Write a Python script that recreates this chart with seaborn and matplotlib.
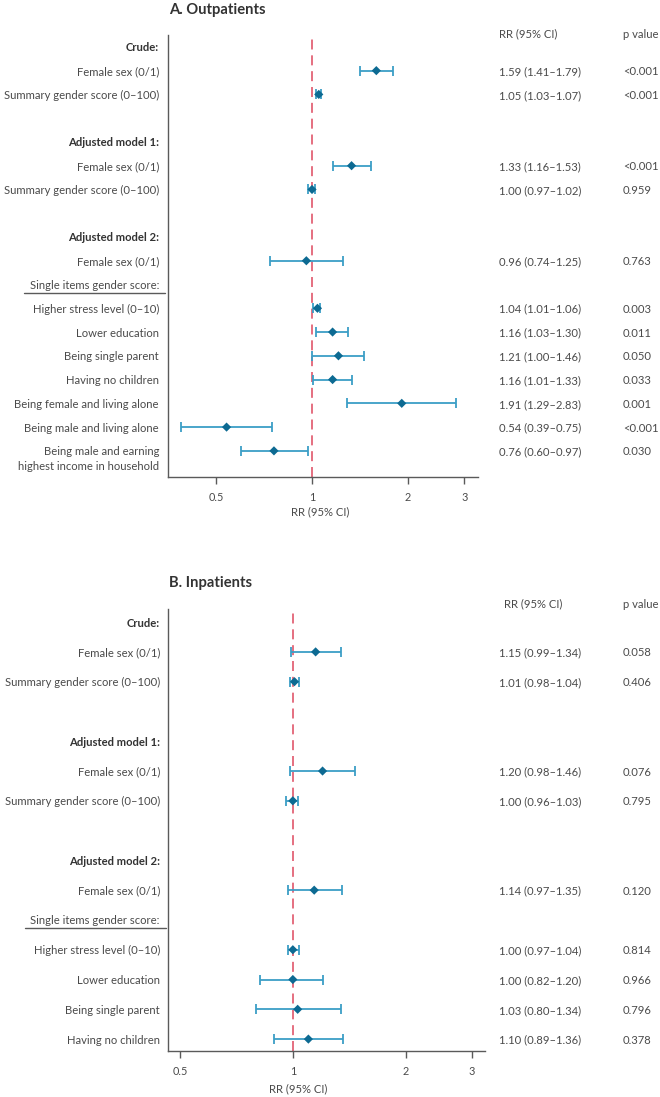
import matplotlib
matplotlib.use("Agg")
import matplotlib.pyplot as plt
import matplotlib.transforms as mtransforms
from matplotlib.lines import Line2D
from matplotlib.ticker import NullLocator
import seaborn as sns
import numpy as np
import pandas as pd

sns.set_theme(style="ticks")
plt.rcParams['font.family'] = ['Lato', 'DejaVu Sans']

NaN = np.nan

# ---------------- Panel A: Outpatients ----------------
a_labels = ["Crude:", "Female sex (0/1)", "Summary gender score (0–100)", "",
            "Adjusted model 1:", "Female sex (0/1)", "Summary gender score (0–100)", "",
            "Adjusted model 2:", "Female sex (0/1)", "Single items gender score:",
            "Higher stress level (0–10)", "Lower education", "Being single parent",
            "Having no children", "Being female and living alone",
            "Being male and living alone",
            "Being male and earning\nhighest income in household"]
a_kinds = ["head", "item", "item", "blank", "head", "item", "item", "blank",
           "head", "item", "sub", "item", "item", "item", "item", "item", "item", "item"]
a_rr = [NaN, 1.59, 1.05, NaN, NaN, 1.33, 1.00, NaN, NaN, 0.96, NaN,
        1.04, 1.16, 1.21, 1.16, 1.91, 0.54, 0.76]
a_lo = [NaN, 1.41, 1.03, NaN, NaN, 1.16, 0.97, NaN, NaN, 0.74, NaN,
        1.01, 1.03, 1.00, 1.01, 1.29, 0.39, 0.60]
a_hi = [NaN, 1.79, 1.07, NaN, NaN, 1.53, 1.02, NaN, NaN, 1.25, NaN,
        1.06, 1.30, 1.46, 1.33, 2.83, 0.75, 0.97]
a_p = ["", "<0.001", "<0.001", "", "", "<0.001", "0.959", "", "", "0.763", "",
       "0.003", "0.011", "0.050", "0.033", "0.001", "<0.001", "0.030"]

# ---------------- Panel B: Inpatients ----------------
b_labels = ["Crude:", "Female sex (0/1)", "Summary gender score (0–100)", "",
            "Adjusted model 1:", "Female sex (0/1)", "Summary gender score (0–100)", "",
            "Adjusted model 2:", "Female sex (0/1)", "Single items gender score:",
            "Higher stress level (0–10)", "Lower education", "Being single parent",
            "Having no children"]
b_kinds = ["head", "item", "item", "blank", "head", "item", "item", "blank",
           "head", "item", "sub", "item", "item", "item", "item"]
b_rr = [NaN, 1.15, 1.01, NaN, NaN, 1.20, 1.00, NaN, NaN, 1.14, NaN,
        1.00, 1.00, 1.03, 1.10]
b_lo = [NaN, 0.99, 0.98, NaN, NaN, 0.98, 0.96, NaN, NaN, 0.97, NaN,
        0.97, 0.82, 0.80, 0.89]
b_hi = [NaN, 1.34, 1.04, NaN, NaN, 1.46, 1.03, NaN, NaN, 1.35, NaN,
        1.04, 1.20, 1.34, 1.36]
b_p = ["", "0.058", "0.406", "", "", "0.076", "0.795", "", "", "0.120", "",
       "0.814", "0.966", "0.796", "0.378"]

x_ticks = [0.5, 1, 2, 3]
x_ticklabels = ["0.5", "1", "2", "3"]

W, H = 660, 1097
fig = plt.figure(figsize=(W / 100, H / 100), dpi=100)

TXT = "#4a4a4a"
HEAD = "#333333"
SPINE = "#5a5a5a"
CI_COL = "#3b9ec6"
PT_COL = "#0d6a92"
REF_COL = "#e0566b"
FS = 8.1


def fx(px):
    return px / W


def fy(py):
    return 1 - py / H


def draw_panel(rect, labels, kinds, rr, lo, hi, pv, xlim, ylim, title, title_xy,
               hdr_rr_xy, hdr_p_xy, label_x, rr_x, p_x, xlabel_coords):
    ax = fig.add_axes(rect)
    rows = np.arange(len(labels))
    df = pd.DataFrame({"row": rows, "label": labels, "kind": kinds,
                       "rr": rr, "lo": lo, "hi": hi, "p": pv})
    d = df.dropna(subset=["rr"])

    ax.set_xscale("log")
    ax.axvline(1, color=REF_COL, lw=1.2, dashes=(6, 3.5), zorder=1)
    ax.errorbar(d["rr"], d["row"], xerr=[d["rr"] - d["lo"], d["hi"] - d["rr"]],
                fmt="none", ecolor=CI_COL, elinewidth=1.3, capsize=3.8,
                capthick=1.3, zorder=2)
    sns.scatterplot(data=d, x="rr", y="row", marker="D", s=22, color=PT_COL,
                    edgecolor="none", linewidth=0, ax=ax, zorder=3, legend=False)

    ax.set_xlim(*xlim)
    ax.set_ylim(*ylim)
    ax.set_xticks(x_ticks)
    ax.set_xticklabels(x_ticklabels)
    ax.xaxis.set_minor_locator(NullLocator())
    ax.set_yticks([])
    ax.set_ylabel("")
    ax.set_xlabel("RR (95% CI)", fontsize=FS, color=TXT)
    ax.xaxis.set_label_coords(*xlabel_coords)
    ax.tick_params(axis="x", length=5, width=1, color=SPINE, labelsize=7.8,
                   labelcolor=TXT, pad=6)
    for s in ["top", "right"]:
        ax.spines[s].set_visible(False)
    for s in ["left", "bottom"]:
        ax.spines[s].set_color(SPINE)
        ax.spines[s].set_linewidth(1.0)

    trans = mtransforms.blended_transform_factory(fig.transFigure, ax.transData)
    sub_text = None
    for _, r in df.iterrows():
        if r["kind"] == "blank":
            continue
        weight = "bold" if r["kind"] == "head" else "normal"
        color = HEAD if r["kind"] == "head" else TXT
        for k, line in enumerate(r["label"].split("\n")):
            tr = mtransforms.offset_copy(trans, fig=fig, y=-k * 10.5, units="points")
            t = ax.text(label_x, r["row"], line, transform=tr, ha="right",
                        va="center_baseline", fontsize=FS, fontweight=weight,
                        color=color)
        if r["kind"] == "sub":
            sub_text = t
        if not np.isnan(r["rr"]):
            ax.text(rr_x, r["row"],
                    f"{r['rr']:.2f} ({r['lo']:.2f}–{r['hi']:.2f})",
                    transform=trans, ha="left", va="center_baseline",
                    fontsize=FS, color=TXT)
            ax.text(p_x, r["row"], r["p"], transform=trans, ha="left",
                    va="center_baseline", fontsize=FS, color=TXT)

    fig.text(title_xy[0], title_xy[1], title, ha="left", va="baseline",
             fontsize=10.6, fontweight="bold", color=HEAD)
    fig.text(hdr_rr_xy[0], hdr_rr_xy[1], "RR (95% CI)", ha="left",
             va="center_baseline", fontsize=FS, color=TXT)
    fig.text(hdr_p_xy[0], hdr_p_xy[1], "p value", ha="left",
             va="center_baseline", fontsize=FS, color=TXT)
    return ax, sub_text


axA, subA = draw_panel([fx(168), fy(477), fx(478) - fx(168), fy(35) - fy(477)],
                       a_labels, a_kinds, a_rr, a_lo, a_hi, a_p,
                       (0.354, 3.31), (18.1, -0.5), "A. Outpatients",
                       (fx(169), fy(14)), (fx(499), fy(33)), (fx(623), fy(33)),
                       fx(159), fx(499), fx(623), (0.49, -0.066))
axB, subB = draw_panel([fx(168), fy(1051), fx(485) - fx(168), fy(609) - fy(1051)],
                       b_labels, b_kinds, b_rr, b_lo, b_hi, b_p,
                       (0.465, 3.25), (14.4, -0.44), "B. Inpatients",
                       (fx(169), fy(587)), (fx(504), fy(603)), (fx(623), fy(603)),
                       fx(160), fx(499), fx(623), (0.41, -0.072))

fig.canvas.draw()
renderer = fig.canvas.get_renderer()
for t in (subA, subB):
    bb = t.get_window_extent(renderer=renderer)
    inv = fig.transFigure.inverted()
    (x0, y0) = inv.transform((bb.x0 - 6, bb.y0 - 2))
    (x1, _) = inv.transform((bb.x1 + 6, bb.y0 - 2))
    fig.add_artist(Line2D([x0, x1], [y0, y0], transform=fig.transFigure,
                          color=SPINE, lw=1.0))

fig.savefig("out.png", dpi=100)
